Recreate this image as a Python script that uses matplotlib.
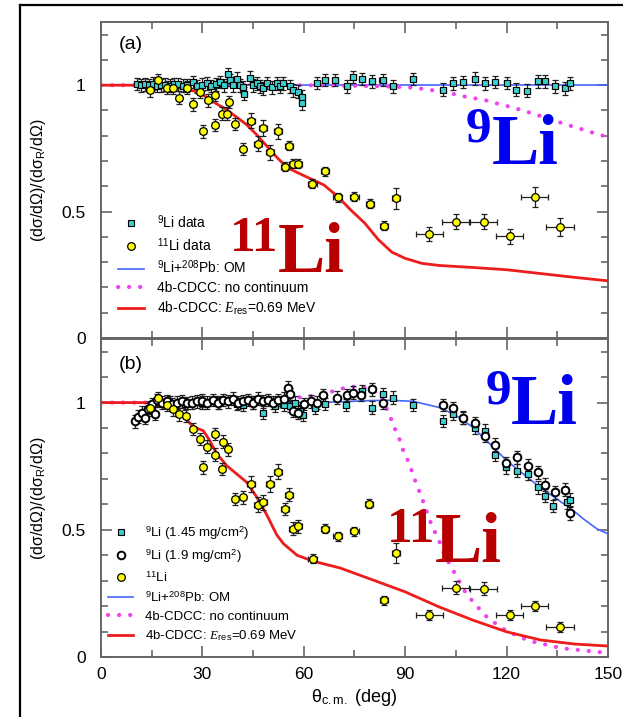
import numpy as np
import matplotlib.pyplot as plt
from matplotlib.lines import Line2D
from matplotlib.ticker import MultipleLocator, FixedLocator

plt.rcParams['font.family'] = ['Liberation Sans', 'DejaVu Sans']
plt.rcParams['mathtext.fontset'] = 'custom'
plt.rcParams['mathtext.rm'] = 'Liberation Sans'
plt.rcParams['mathtext.it'] = 'Liberation Serif:italic'

# ---------------- panel (a) data ----------------
li9_a_x = [10.6, 11.8, 13.0, 14.2, 15.4, 16.6, 17.8, 19.0, 20.4, 21.6, 22.9, 24.2, 25.5,
           27.3, 28.3, 29.8, 31.3, 32.6, 33.9, 35.2, 36.5, 37.7, 38.2, 39.2, 40.1, 41.1,
           42.1, 42.4, 44.1, 45.1, 46.1, 47.0, 48.0, 49.0, 50.5, 52.0, 53.0, 53.9, 55.9,
           56.9, 58.4, 59.4, 59.6, 63.8, 66.3, 69.2, 72.7, 74.6, 77.1, 80.1, 83.3, 86.3,
           92.4, 101.1, 104.2, 107.2, 110.7, 113.6, 116.6, 120.0, 122.9, 126.1, 129.2,
           131.4, 134.3, 137.3, 138.8]
li9_a_y = [1.005, 1.0, 1.003, 1.0, 1.006, 0.998, 1.0, 1.002, 0.998, 1.003, 1.004, 0.998, 1.0,
           1.013, 0.996, 1.002, 1.007, 0.997, 1.004, 1.013, 1.0, 1.043, 1.02, 1.0, 1.026, 1.0,
           0.993, 0.967, 1.03, 1.0, 1.007, 0.995, 0.988, 1.009, 0.991, 1.007, 0.995, 1.007, 0.996,
           0.98, 0.974, 0.955, 0.928, 1.009, 1.02, 1.02, 0.996, 1.033, 1.024, 1.015, 1.02, 0.996,
           1.024, 0.983, 1.007, 1.013, 1.026, 1.007, 1.013, 1.009, 0.983, 0.978, 1.015,
           1.015, 0.996, 0.988, 1.007]

li11_a_x = [14.5, 17.0, 19.4, 21.2, 23.2, 25.4, 27.3, 29.3, 30.1, 31.8, 33.7, 33.7, 35.7,
            37.2, 38.0, 39.6, 41.9, 44.3, 46.5, 48.0, 50.0, 52.3, 54.4, 55.6, 56.7, 58.4,
            62.5, 66.3, 70.0, 75.0, 79.6, 83.7, 87.3, 97.1, 105.0, 113.3, 121.0, 128.4, 135.8]
li11_a_y = [0.98, 1.02, 0.99, 0.99, 0.951, 0.99, 0.924, 0.974, 0.818, 0.94, 0.963, 0.842, 0.888,
            0.888, 0.934, 0.846, 0.747, 0.859, 0.769, 0.831, 0.734, 0.818, 0.677, 0.760, 0.690, 0.69,
            0.611, 0.660, 0.556, 0.559, 0.532, 0.444, 0.552, 0.411, 0.460, 0.460, 0.403, 0.559, 0.440]
li11_a_xerr = [0.9] * 17 + [1.2] * 9 + [1.3] * 5 + [1.2, 1.2] + [4.0] * 6
li11_a_yerr = [0.025] * 17 + [0.03] * 5 + [0.018] * 4 + [0.018] * 5 + [0.018, 0.04] + [0.028, 0.03, 0.03, 0.03, 0.04, 0.035]

om_a_x = [0, 150]
om_a_y = [1.0, 1.0]

nocont_a_x = [0, 60, 75, 85, 91.4, 94.4, 101.3, 104.7, 108, 111.1, 114.6, 117.8, 121.2,
              124.5, 127.7, 133.8, 137.3, 140.5, 147, 150]
nocont_a_y = [1.0, 1.0, 0.998, 0.995, 0.991, 0.987, 0.974, 0.964, 0.954, 0.947, 0.938, 0.925,
              0.914, 0.901, 0.888, 0.862, 0.846, 0.833, 0.806, 0.795]

cdcc_a_x = [0, 15, 20, 25, 28, 31, 34, 37, 40, 43, 46, 49, 52, 55, 58, 62, 66, 70, 74, 78,
            82, 86, 90, 95, 100, 110, 120, 130, 140, 150]
cdcc_a_y = [1.0, 1.0, 0.995, 0.985, 0.975, 0.955, 0.928, 0.905, 0.875, 0.845, 0.805, 0.76,
            0.715, 0.675, 0.655, 0.63, 0.605, 0.56, 0.505, 0.455, 0.39, 0.34, 0.315, 0.295,
            0.287, 0.279, 0.27, 0.255, 0.24, 0.226]

# ---------------- panel (b) data ----------------
li9thin_b_x = [20.5, 25.0, 30.0, 35.0, 40.3, 42.1, 45.0, 48.0, 51.5, 54.0, 55.9, 57.4, 58.9,
               59.9, 63.3, 66.3, 72.5, 77.1, 80.1, 83.5, 86.5, 92.4, 101.3, 104.2, 107.2,
               110.7, 113.6, 116.6, 119.8, 123.0, 126.2, 129.2, 131.4, 133.8, 137.8, 138.8]
li9thin_b_y = [1.0, 0.995, 1.0, 0.998, 0.995, 0.99, 1.0, 0.96, 0.987, 0.99, 0.987, 1.0, 0.967,
               0.953, 0.98, 0.994, 0.99, 1.044, 0.98, 1.033, 1.02, 0.991, 0.928, 0.957, 0.94,
               0.90, 0.89, 0.795, 0.746, 0.732, 0.72, 0.667, 0.634, 0.593, 0.608, 0.618]

li9thick_b_x = [10.1, 11.0, 12.0, 13.0, 14.0, 15.0, 16.0, 16.5, 18.0, 19.5, 21.0, 22.5, 24.0,
                25.5, 27.0, 28.5, 30.0, 31.5, 33.0, 34.5, 36.0, 37.5, 39.0, 40.5, 42.0, 43.5,
                45.0, 46.5, 48.0, 49.5, 51.0, 52.5, 54.0, 55.4, 55.9, 56.9, 58.4, 60.0, 62.0,
                63.8, 65.8, 69.7, 72.7, 74.6, 76.8, 80.1, 83.5, 101.3, 104.2, 107.2, 110.7,
                113.6, 116.6, 119.8, 123.0, 126.2, 129.2, 131.4, 134.3, 137.3, 138.8]
li9thick_b_y = [0.926, 0.944, 0.961, 0.939, 0.974, 0.994, 0.956, 1.009, 1.0, 1.005, 0.995, 1.0,
                1.005, 0.998, 1.0, 1.005, 1.008, 1.0, 1.01, 1.0, 1.01, 1.005, 1.015, 1.0, 1.005,
                1.01, 1.0, 1.015, 1.005, 1.01, 1.0, 1.01, 1.015, 1.059, 1.033, 0.967, 0.96, 0.995,
                1.005, 1.0, 1.03, 1.02, 1.03, 1.039, 1.03, 1.052, 1.0, 0.991, 0.977, 0.939, 0.918,
                0.870, 0.834, 0.761, 0.785, 0.752, 0.726, 0.678, 0.647, 0.657, 0.565]

li11_b_x = [14.5, 17.0, 19.4, 21.4, 23.2, 25.1, 27.1, 29.3, 30.1, 31.4, 33.7, 33.7, 35.7,
            36.0, 37.7, 39.6, 41.9, 44.3, 46.4, 48.0, 50.0, 52.3, 54.4, 55.6, 56.7, 58.4,
            62.6, 66.3, 70.0, 75.0, 79.3, 83.7, 87.3, 97.1, 105.0, 113.3, 121.0, 128.4, 135.8]
li11_b_y = [0.98, 1.017, 0.99, 0.974, 0.954, 0.948, 0.896, 0.857, 0.745, 0.826, 0.876, 0.795,
            0.739, 0.847, 0.817, 0.621, 0.628, 0.680, 0.598, 0.608, 0.680, 0.729, 0.582, 0.638,
            0.504, 0.513, 0.387, 0.504, 0.474, 0.494, 0.602, 0.223, 0.410, 0.165, 0.273, 0.269,
            0.165, 0.200, 0.119]
li11_b_xerr = [0.9] * 17 + [1.2] * 9 + [1.3] * 5 + [1.2, 1.2] + [4.0] * 6
li11_b_yerr = [0.025] * 17 + [0.03] * 5 + [0.025] * 4 + [0.018] * 5 + [0.018, 0.04] + [0.02, 0.025, 0.025, 0.02, 0.02, 0.02]

om_b_x = [0, 60, 70.7, 80, 85.5, 92.4, 100.3, 105.2, 110.1, 115.1, 120, 124.9, 129.9, 134.8,
          139.7, 142.7, 146.7, 150]
om_b_y = [1.0, 1.0, 1.003, 1.008, 1.009, 1.005, 0.98, 0.948, 0.902, 0.837, 0.772, 0.72, 0.667,
          0.622, 0.576, 0.543, 0.504, 0.484]

nocont_b_x = [0, 20, 40, 55, 65, 70, 73.2, 76.6, 79, 82.5, 85.5, 86.5, 88, 89, 90.4, 91.6,
              92.7, 93.9, 95.2, 97.3, 98.8, 100.3, 101.5, 104.7, 108, 110.1, 112.3, 114.6,
              120, 123.5, 126.6, 129.9, 133.3, 136.6, 143.2, 146.7, 150]
nocont_b_y = [1.0, 1.0, 1.005, 1.015, 1.03, 1.05, 1.062, 1.062, 1.055, 1.035, 0.948, 0.909,
              0.87, 0.824, 0.785, 0.745, 0.702, 0.661, 0.615, 0.537, 0.491, 0.448, 0.406, 0.328,
              0.25, 0.217, 0.184, 0.151, 0.102, 0.082, 0.064, 0.054, 0.043, 0.034, 0.025, 0.02,
              0.017]

cdcc_b_x = [0, 14, 16.5, 20.4, 24.3, 27.3, 30.3, 32.2, 34.2, 37.2, 40.1, 43.1, 46.1, 49, 52,
            54, 58, 62.6, 70.7, 80, 90, 100, 110, 120, 130, 140, 150]
cdcc_b_y = [1.0, 1.0, 0.99, 0.974, 0.948, 0.905, 0.889, 0.85, 0.8, 0.752, 0.72, 0.687, 0.628,
            0.56, 0.48, 0.445, 0.4, 0.377, 0.35, 0.305, 0.256, 0.197, 0.145, 0.099, 0.067,
            0.051, 0.043]

CYAN = '#3ccfcf'
BLUE = '#4466ff'
MAGENTA = '#ee44ee'
RED = '#ee1c1c'
ERR = '#202020'


def style_axis(ax, show_xlabels):
    ax.set_xlim(0, 150)
    ax.set_ylim(0, 1.25)
    ax.xaxis.set_major_locator(MultipleLocator(30))
    ax.xaxis.set_minor_locator(MultipleLocator(15))
    ax.yaxis.set_major_locator(FixedLocator([0, 0.5, 1]))
    ax.yaxis.set_minor_locator(MultipleLocator(0.1))
    ax.yaxis.set_major_formatter(plt.FuncFormatter(lambda v, p: '%g' % v))
    ax.tick_params(which='both', direction='in', top=True, right=True, color='#666666',
                   width=1.2, labelsize=12.5)
    ax.tick_params(which='major', length=8)
    ax.tick_params(which='minor', length=5)
    ax.tick_params(axis='y', pad=11)
    ax.tick_params(axis='x', pad=7, labelbottom=show_xlabels)
    for s in ax.spines.values():
        s.set_color('#666666')
        s.set_linewidth(1.4)
    ax.set_ylabel('(dσ/dΩ)/(dσ$_{\\rm R}$/dΩ)', fontsize=11.5, labelpad=10)


def draw_curves(ax, om_x, om_y, nc_x, nc_y, cd_x, cd_y):
    ax.plot(om_x, om_y, color=BLUE, lw=1.2, zorder=2)
    ax.plot(nc_x, nc_y, color=MAGENTA, lw=3, linestyle=(0, (0.05, 2.6)),
            dash_capstyle='round', zorder=2)
    ax.plot(cd_x, cd_y, color=RED, lw=2, zorder=3)


def big_label(ax, x, y, mass, color, rise):
    ax.text(x, y, 'Li', color=color, fontsize=51, fontweight='bold',
            family='Liberation Serif', ha='left', va='baseline', zorder=6)
    ax.annotate(mass, xy=(x, y), xytext=(0, rise), textcoords='offset points',
                color=color, fontsize=37, fontweight='bold', family='Liberation Serif',
                ha='right', va='baseline', zorder=6)


def errpoints(ax, x, y, xerr, yerr, **kw):
    ax.errorbar(x, y, xerr=xerr, yerr=yerr, fmt='none', ecolor=ERR, elinewidth=0.9,
                capsize=2.5, capthick=0.9, zorder=4)
    ax.plot(x, y, linestyle='none', zorder=5, **kw)


fig = plt.figure(figsize=(6.23, 7.17), dpi=100)
# frame lines on the left and top edge only
fig.add_artist(Line2D([20 / 623, 20 / 623], [0, 1 - 5 / 717], transform=fig.transFigure,
                      color='black', lw=1.6))
fig.add_artist(Line2D([20 / 623, 1], [1 - 5 / 717, 1 - 5 / 717], transform=fig.transFigure,
                      color='black', lw=1.6))

ax_a = fig.add_axes([0.1621, 0.5286, 0.8138, 0.4407])
ax_b = fig.add_axes([0.1621, 0.0837, 0.8138, 0.4435])

sq = dict(marker='s', ms=4, mfc=CYAN, mec='black', mew=0.8)
yc = dict(marker='o', ms=5.5, mfc='yellow', mec='black', mew=0.9)
oc = dict(marker='o', ms=5.5, mfc='white', mec='black', mew=1.4)

# panel (a)
draw_curves(ax_a, om_a_x, om_a_y, nocont_a_x, nocont_a_y, cdcc_a_x, cdcc_a_y)
errpoints(ax_a, li9_a_x, li9_a_y, 0.9, 0.025, **sq)
errpoints(ax_a, li11_a_x, li11_a_y, li11_a_xerr, li11_a_yerr, **yc)
style_axis(ax_a, False)
ax_a.text(0.036, 0.955, '(a)', transform=ax_a.transAxes, fontsize=14, va='top')
big_label(ax_a, 115.5, 0.69, '9', '#0000ee', 16)
big_label(ax_a, 52.3, 0.262, '11', '#b80000', 15)

lines_leg = [Line2D([], [], color=BLUE, lw=1.2),
             Line2D([], [], color=MAGENTA, lw=3, linestyle=(0, (0.05, 2.6)), dash_capstyle='round'),
             Line2D([], [], color=RED, lw=2)]
line_labels = ['$^{9}$Li+$^{208}$Pb: OM', '4b-CDCC: no continuum',
               '4b-CDCC: $E_{\\rm res}$=0.69 MeV']

h_a = [Line2D([], [], linestyle='none', **sq), Line2D([], [], linestyle='none', **yc)] + lines_leg
l_a = ['$^{9}$Li data', '$^{11}$Li data'] + line_labels
ax_a.legend(h_a, l_a, loc='lower left', bbox_to_anchor=(0.014, 0.035), frameon=False,
            fontsize=10, handlelength=1.9, handletextpad=0.9, labelspacing=0.35,
            borderpad=0.2)

# panel (b)
draw_curves(ax_b, om_b_x, om_b_y, nocont_b_x, nocont_b_y, cdcc_b_x, cdcc_b_y)
errpoints(ax_b, li9thin_b_x, li9thin_b_y, 0.9, 0.025, **sq)
errpoints(ax_b, li9thick_b_x, li9thick_b_y, 0.9, 0.025, **oc)
errpoints(ax_b, li11_b_x, li11_b_y, li11_b_xerr, li11_b_yerr, **yc)
style_axis(ax_b, True)
ax_b.text(0.036, 0.945, '(b)', transform=ax_b.transAxes, fontsize=14, va='top')
big_label(ax_b, 121.3, 0.917, '9', '#0000ee', 14.5)
big_label(ax_b, 98.8, 0.372, '11', '#b80000', 14.5)
ax_b.set_xlabel('θ$_{\\rm c.m.}$ (deg)', fontsize=13, labelpad=4)

h_b = [Line2D([], [], linestyle='none', **sq), Line2D([], [], linestyle='none', **oc),
       Line2D([], [], linestyle='none', **yc)] + lines_leg
l_b = ['$^{9}$Li (1.45 mg/cm$^{2}$)', '$^{9}$Li (1.9 mg/cm$^{2}$)', '$^{11}$Li'] + line_labels
ax_b.legend(h_b, l_b, loc='lower left', bbox_to_anchor=(-0.004, 0.015), frameon=False,
            fontsize=9.5, handlelength=1.9, handletextpad=0.9, labelspacing=0.42,
            borderpad=0.2)

fig.savefig('out.png', dpi=100)
